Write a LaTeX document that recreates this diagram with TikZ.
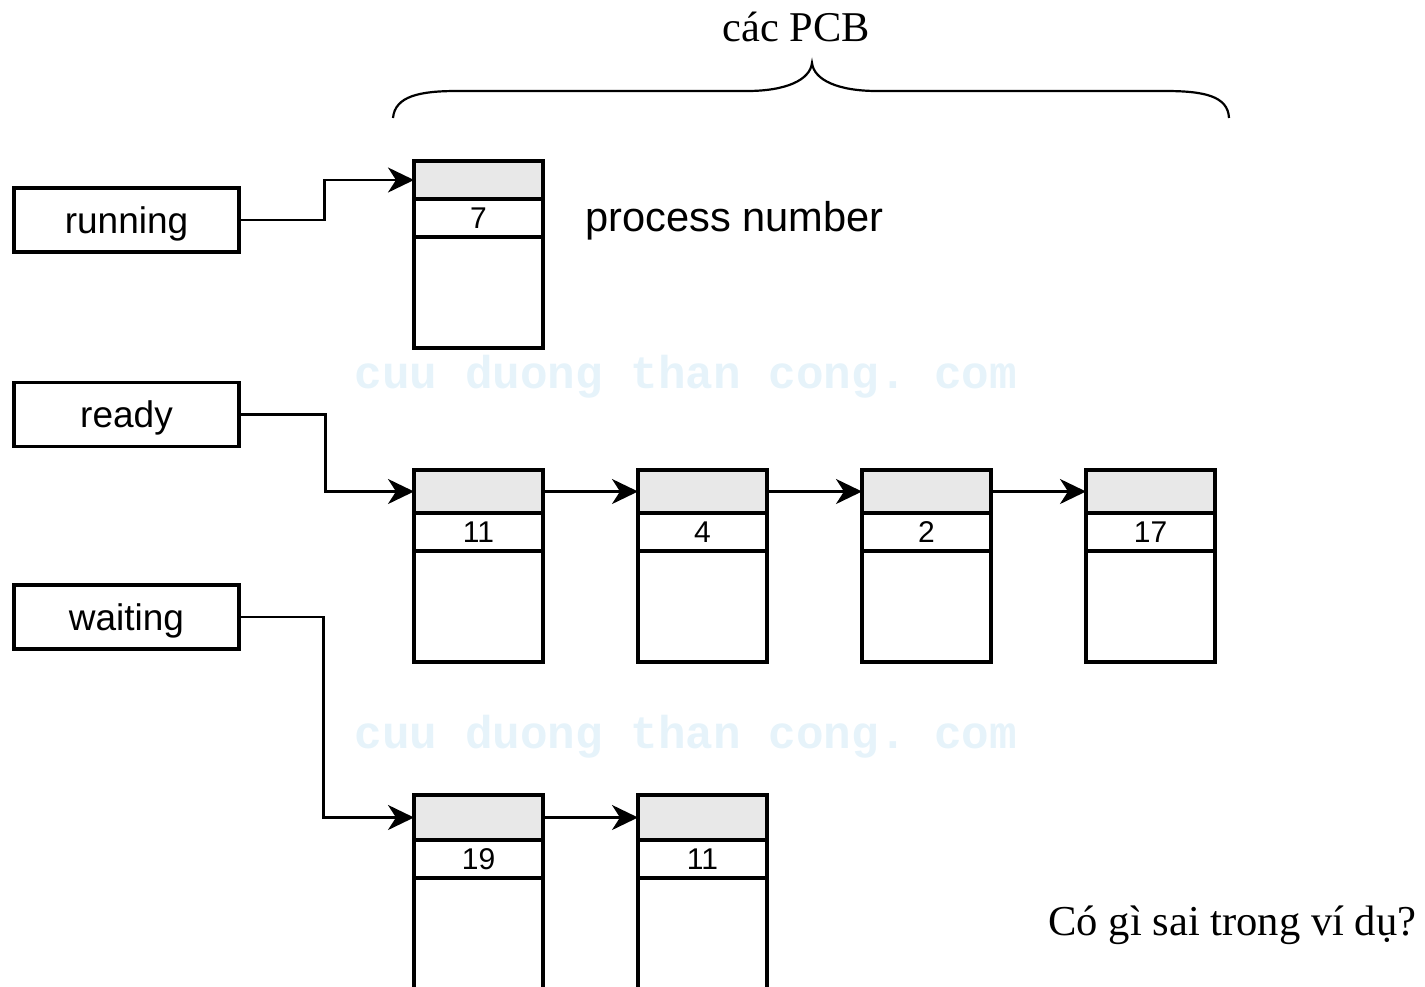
\documentclass[tikz,border=0pt]{standalone}
\usepackage{fontspec}
\setmainfont{Liberation Serif}
\setsansfont{Liberation Sans}
\setmonofont{Liberation Mono}
\usetikzlibrary{arrows.meta}
\definecolor{pcbgray}{RGB}{232,232,232}
\definecolor{wmark}{RGB}{230,243,250}
\tikzset{
	qbox/.style={draw, line width=1.6pt, minimum width=112.5pt, minimum height=32pt, inner sep=0pt, text depth=0pt, font=\sffamily\fontsize{18.5}{20}\selectfont},
	pcbhead/.style={draw, fill=pcbgray, line width=1.6pt, minimum width=64.5pt, inner sep=0pt, outer sep=0pt, anchor=north west},
	pcbnum/.style={draw, line width=1.6pt, minimum width=64.5pt, minimum height=19pt, inner sep=0pt, outer sep=0pt, anchor=north, font=\sffamily\fontsize{15}{16}\selectfont},
	pcbbody/.style={draw, line width=1.6pt, minimum width=64.5pt, inner sep=0pt, outer sep=0pt, anchor=north},
	link/.style={-{Stealth[length=13pt,width=12.5pt,inset=4pt]}, line width=1.3pt},
	wmtext/.style={text=wmark, font=\ttfamily\bfseries\fontsize{23}{25}\selectfont}
}
\begin{document}
\begin{tikzpicture}[x=0.5pt,y=-0.5pt]
\useasboundingbox (0,0) rectangle (1425,986);
\node[wmtext] (wm1) at (686,377) {cuu duong than cong. com};
\node[wmtext] (wm2) at (686,737) {cuu duong than cong. com};

\draw[line width=1.1pt] (393,118) .. controls (395,96) and (420,91) .. (457,91) -- (747,91)
	.. controls (786,91) and (810,80) .. (812,63) .. controls (814,80) and (838,91) .. (877,91)
	-- (1165,91) .. controls (1204,91) and (1228,96) .. (1229,118);
\node[font=\fontsize{21.2}{24}\selectfont] (pcbs) at (796,27) {các PCB};

\node[qbox] (run) at (126.5,220) {running};
\node[qbox] (rdy) at (126.5,414.5) {ready};
\node[qbox] (wt) at (126.5,617) {waiting};

\node[pcbhead, minimum height=19pt] (runh) at (414,161) {};
\node[pcbnum] (runn) at (runh.south) {7};
\node[pcbbody, minimum height=55.5pt] (runb) at (runn.south) {};
\node[anchor=base west, inner sep=0pt, font=\sffamily\fontsize{20.8}{24}\selectfont] (pnum) at (585,231) {process number};

\foreach \i/\x/\n in {1/414/11, 2/638/4, 3/862/2, 4/1086/17}
{
	\node[pcbhead, minimum height=21.5pt] (rh\i) at (\x,470) {};
	\node[pcbnum] (rn\i) at (rh\i.south) {\n};
	\node[pcbbody, minimum height=55.5pt] (rb\i) at (rn\i.south) {};
}
\foreach \i/\j in {1/2,2/3,3/4}
	\draw[link] (rh\i.east) -- (rh\j.west);

\foreach \i/\x/\n in {1/414/19, 2/638/11}
{
	\node[pcbhead, minimum height=22.5pt] (wh\i) at (\x,795) {};
	\node[pcbnum] (wn\i) at (wh\i.south) {\n};
	\node[pcbbody, minimum height=60pt] (wb\i) at (wn\i.south) {};
}
\draw[link] (wh1.east) -- (wh2.west);

\draw[link] (run.east) -- ++(84,0) |- (runh.west);
\draw[link] (rdy.east) -- ++(85,0) |- (rh1.west);
\draw[link] (wt.east) -- ++(83,0) |- (wh1.west);

\node[anchor=base west, inner sep=0pt, font=\fontsize{21.3}{24}\selectfont] (quest) at (1048,935) {Có gì sai trong ví dụ?};
\end{tikzpicture}
\end{document}
